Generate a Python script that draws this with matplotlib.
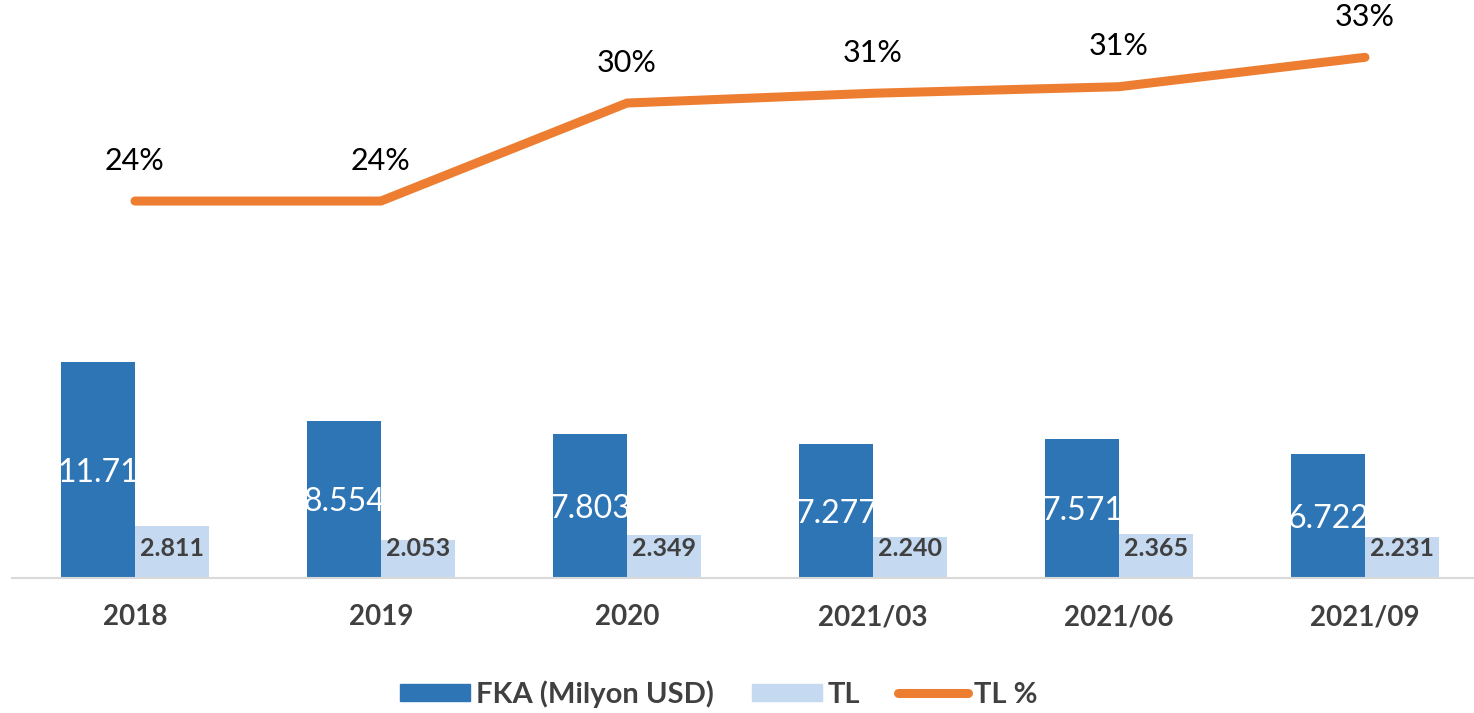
import matplotlib.pyplot as plt
from matplotlib.patches import Patch
from matplotlib.lines import Line2D
import numpy as np

plt.rcParams["font.family"] = ["Lato", "DejaVu Sans"]

categories = ["2018", "2019", "2020", "2021/03", "2021/06", "2021/09"]
fka = [11.71, 8.554, 7.803, 7.277, 7.571, 6.722]
tl = [2.811, 2.053, 2.349, 2.240, 2.365, 2.231]
tl_pct = [24.0, 24.0, 30.0, 30.6, 31.0, 32.8]

fka_labels = ["11.71", "8.554", "7.803", "7.277", "7.571", "6.722"]
tl_labels = ["2.811", "2.053", "2.349", "2.240", "2.365", "2.231"]

dark_blue = "#2E75B6"
light_blue = "#C5D9F0"
orange = "#ED7D31"
gray_text = "#404040"

fig = plt.figure(figsize=(14.74, 7.13), dpi=100)
ax = fig.add_axes([12 / 1474, 135 / 713, 1476 / 1474, 578 / 713])

x = np.arange(len(categories))
w = 0.3

bars_fka = ax.bar(x - w / 2, fka, width=w, color=dark_blue)
bars_tl = ax.bar(x + w / 2, tl, width=w, color=light_blue)

ax.set_xlim(-0.5, len(categories) - 0.5)
ax.set_ylim(0, 31.4)

# value labels inside the bars (clipped by the bar, like the original)
for bar, val, lab in zip(bars_fka, fka, fka_labels):
    t = ax.annotate(lab, (bar.get_x() + bar.get_width() / 2, val / 2),
                    xytext=(0, -2), textcoords="offset points",
                    ha="center", va="center", color="white", fontsize=23)
    t.set_clip_path(bar)

for xi, lab in zip(x, tl_labels):
    ax.annotate(lab, (xi + w / 2, 0), xytext=(0, 21.5), textcoords="offset points",
                ha="center", va="center", color=gray_text, fontsize=18,
                fontweight="bold")

ax.set_xticks(x)
ax.set_xticklabels(categories, fontsize=20, fontweight="bold", color=gray_text)
ax.tick_params(axis="x", length=0, pad=19)
ax.set_yticks([])
for s in ["top", "left", "right"]:
    ax.spines[s].set_visible(False)
ax.spines["bottom"].set_color("#D9D9D9")
ax.spines["bottom"].set_linewidth(1.5)

# TL % line on a second axis
ax2 = ax.twinx()
ax2.plot(x, tl_pct, color=orange, linewidth=6.5, solid_capstyle="round",
         solid_joinstyle="round")
ax2.set_ylim(0.915, 36.31)
ax2.set_yticks([])
for s in ["top", "left", "right", "bottom"]:
    ax2.spines[s].set_visible(False)

for xi, v in zip(x, tl_pct):
    ax2.annotate(f"{round(v)}%", (xi, v), xytext=(0, 29), textcoords="offset points",
                 ha="center", va="center", color="black", fontsize=22)

handles = [
    Patch(color=dark_blue, label="FKA (Milyon USD)"),
    Patch(color=light_blue, label="TL"),
    Line2D([0], [0], color=orange, linewidth=6.5, solid_capstyle="round", label="TL %"),
]
leg = fig.legend(handles=handles, loc="center", bbox_to_anchor=(719 / 1474, 1 - 694 / 713),
                 ncol=3, frameon=False, handlelength=2.4, handleheight=0.52,
                 handletextpad=0.2, columnspacing=1.3,
                 prop={"size": 21, "weight": "bold"})
for t in leg.get_texts():
    t.set_color(gray_text)

fig.savefig("out.png", dpi=100)
